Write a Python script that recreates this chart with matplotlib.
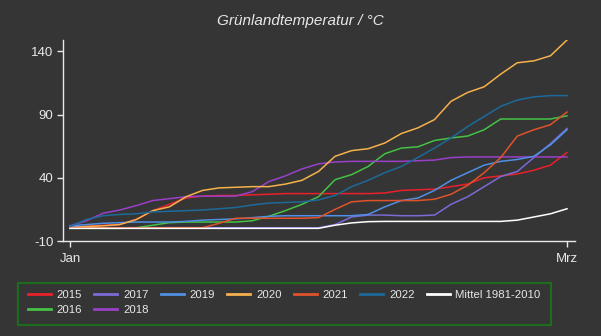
import numpy as np
import matplotlib.pyplot as plt
from matplotlib.patches import Rectangle

plt.rcParams['font.family'] = ['Liberation Sans', 'DejaVu Sans']
plt.rcParams['axes.unicode_minus'] = False

# Day of year (1 Jan .. 1 Mar), sampled every ~2 days
days = np.linspace(0, 59, 31)

t2015 = [1, 1.5, 2.5, 3, 7, 14, 19, 24, 25.5, 26, 26, 26.5, 27, 27.5, 27.5, 27.5,
         27.5, 27.5, 27.5, 28, 30, 30.5, 31, 33, 35, 40, 41.5, 43, 46, 50, 60]
t2016 = [0, 0, 0, 0, 0.5, 2.5, 4.5, 5, 5, 5, 5, 6, 9.5, 14, 19, 25,
         38.5, 42.5, 49, 59, 63.5, 64.5, 69.5, 71.5, 73, 78, 86.5, 86.5, 86.5, 86.5, 89]
t2017 = [2, 1, 0.5, 0.5, 0.5, 0.5, 0.5, 0.5, 0.5, 0.5, 0.5, 0.5, 0.5, 0.5, 0.5, 0.5,
         3, 9, 10.5, 10.5, 10, 10, 10.5, 19, 25, 33, 41, 45, 56, 67, 79]
t2018 = [2, 6, 12, 14.5, 18, 22, 23.5, 25, 25.5, 25.5, 25.5, 29, 37, 41.5, 47, 51,
         52.5, 53, 53, 53, 53, 53.5, 54, 56, 56.5, 56.5, 56.5, 56.5, 56.5, 56.5, 56.5]
t2019 = [2, 3, 4, 4.5, 5, 5, 5, 5.5, 6.5, 7, 7.5, 8.5, 9.5, 10, 10, 10,
         10, 10, 11, 17, 22, 24, 30, 38, 44, 50, 53, 54.5, 57, 66, 78]
t2020 = [0.5, 1.5, 2, 3, 7, 14, 17, 25, 30, 32, 32.5, 33, 33, 35, 38, 45,
         57, 61.5, 63, 67.5, 75, 79.5, 86, 100.5, 107.5, 112, 122, 131, 132.5, 136.5, 149]
t2021 = [0.5, 0.5, 0.5, 0.5, 0.5, 0.5, 0.5, 0.5, 0.5, 4, 8, 8, 8, 8, 8, 8.5,
         15, 21, 22, 22, 22, 22, 23, 27, 34, 44, 56, 73, 78, 82, 92]
t2022 = [1.5, 7, 10, 11, 11.5, 13, 13.5, 14, 14.5, 15.5, 16.5, 18.5, 20, 20.5, 21, 22.5,
         26, 33, 38, 44, 49, 56, 63.5, 71.5, 80.5, 88.5, 96.5, 101.5, 104, 105, 105]
mittel = [0, 0, 0, 0, 0, 0, 0, 0, 0, 0, 0, 0, 0, 0, 0, 0,
          2.5, 4.3, 5.3, 5.5, 5.5, 5.5, 5.5, 5.5, 5.5, 5.5, 5.5, 6.5, 9, 11.5, 15.5]

labels = ["2015", "2016", "2017", "2018", "2019", "2020", "2021", "2022", "Mittel 1981-2010"]
series = [t2015, t2016, t2017, t2018, t2019, t2020, t2021, t2022, mittel]
colors = ["#e8212b", "#44c244", "#7a6bd6", "#9a40c8", "#4f8fe6",
          "#f5b14c", "#e0522a", "#1d6a9a", "#ffffff"]

bg = "#353535"
fg = "#e8e8e8"

fig = plt.figure(figsize=(6.01, 3.36), dpi=100, facecolor=bg)
ax = fig.add_axes([63/601, 1 - 241/336, 512/601, 201/336], facecolor=bg)

lines = []
for vals, lab, col in zip(series, labels, colors):
    ln, = ax.plot(days, vals, color=col, lw=1.1, label=lab)
    lines.append(ln)

ax.set_xlim(-0.83, 59.95)
ax.set_ylim(-10, 149)
ax.set_yticks([-10, 40, 90, 140])
ax.set_xticks([0, 59])
ax.set_xticklabels(["Jan", "Mrz"])

for side in ["top", "right"]:
    ax.spines[side].set_visible(False)
for side in ["left", "bottom"]:
    ax.spines[side].set_color(fg)
    ax.spines[side].set_linewidth(1.0)
ax.tick_params(colors=fg, labelsize=9.5, length=4, width=1.0, pad=3)
ax.tick_params(axis="x", pad=5)

fig.text(0.5, 1 - 21/336, "Grünlandtemperatur / °C", ha="center", va="center",
         fontsize=11, style="italic", color=fg)

leg = fig.legend(lines, labels, ncol=7, loc="upper left",
                 bbox_to_anchor=(28/601, 1 - 290/336), frameon=False,
                 fontsize=8.2, handlelength=2.0, handletextpad=0.5,
                 columnspacing=1.1, labelspacing=0.45, borderpad=0, borderaxespad=0)
for t in leg.get_texts():
    t.set_color(fg)
for h in leg.get_lines():
    h.set_linewidth(2)

fig.patches.append(Rectangle((18/601, 1 - 325/336), 533/601, 42/336,
                             transform=fig.transFigure, fill=False,
                             edgecolor="#1d6b1d", linewidth=1.6))

fig.savefig("out.png", dpi=100, facecolor=bg)
